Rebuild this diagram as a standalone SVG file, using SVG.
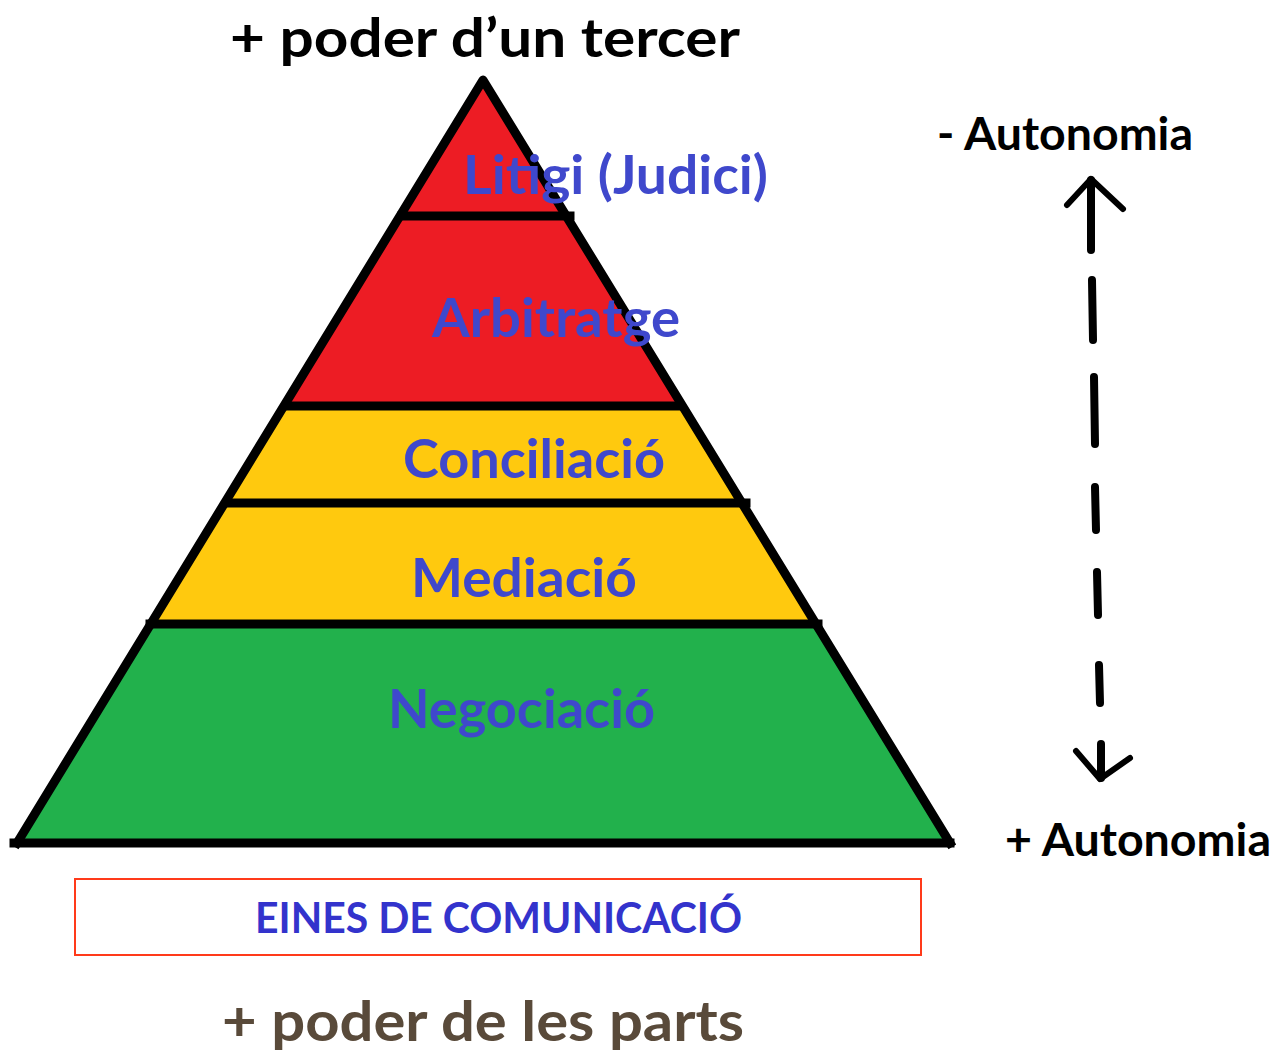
<svg xmlns="http://www.w3.org/2000/svg" width="1274" height="1051" viewBox="0 0 1274 1051">
<style>
  .lbl{font-family:Lato,"Open Sans","Liberation Sans",sans-serif;font-weight:bold;fill:#3F48CC}
  .blk{font-family:Lato,"Open Sans","Liberation Sans",sans-serif;font-weight:bold;fill:#000}
  .edge{stroke:#000;stroke-width:9;fill:none;stroke-linecap:square}
  .dash{stroke:#000;stroke-width:8;stroke-linecap:round;fill:none}
  .head{stroke:#000;stroke-width:6;stroke-linecap:round;stroke-linejoin:round;fill:none}
</style>
<rect width="1274" height="1051" fill="#fff"/>
<text class="blk" x="230" y="57" font-size="54" textLength="510" lengthAdjust="spacingAndGlyphs">+ poder d’un tercer</text>

<g id="pyramid">
  <g id="litigi">
    <polygon points="483,80 566,216 400,216" fill="#ED1C24"/>
  </g>
  <g id="arbitratge">
    <polygon points="400,216 566,216 682,406 284,406" fill="#ED1C24"/>
  </g>
  <g id="conciliacio">
    <polygon points="284,406 682,406 742,503 225,503" fill="#FFC90E"/>
  </g>
  <g id="mediacio">
    <polygon points="225,503 742,503 816,624 151,624" fill="#FFC90E"/>
  </g>
  <g id="negociacio">
    <polygon points="151,624 816,624 950,843 17,843" fill="#22B14C"/>
  </g>
  <g id="outline">
    <polyline class="edge" points="17,843 483,80 950,843" stroke-linejoin="round"/>
    <line class="edge" x1="14" y1="843" x2="950" y2="843"/>
    <line class="edge" x1="402" y1="216" x2="570" y2="216"/>
    <line class="edge" x1="287" y1="406" x2="678" y2="406"/>
    <line class="edge" x1="228" y1="503" x2="746" y2="503"/>
    <line class="edge" x1="150" y1="624" x2="818" y2="624"/>
  </g>
  <text class="lbl" x="463" y="194" font-size="53" textLength="305" lengthAdjust="spacingAndGlyphs">Litigi (Judici)</text>
  <text class="lbl" x="432" y="337" font-size="54" textLength="248" lengthAdjust="spacingAndGlyphs">Arbitratge</text>
  <text class="lbl" x="403" y="478" font-size="53" textLength="262" lengthAdjust="spacingAndGlyphs">Conciliació</text>
  <text class="lbl" x="411" y="597" font-size="53" textLength="226" lengthAdjust="spacingAndGlyphs">Mediació</text>
  <text class="lbl" x="388" y="728" font-size="53" textLength="267" lengthAdjust="spacingAndGlyphs">Negociació</text>
</g>

<g id="connectors">
  <line class="dash" x1="1091" y1="180" x2="1091" y2="250"/>
  <polyline class="head" points="1067,205 1091,179 1123,209"/>
  <line class="dash" x1="1092" y1="280" x2="1093" y2="340"/>
  <line class="dash" x1="1094" y1="377" x2="1095" y2="444"/>
  <line class="dash" x1="1095" y1="487" x2="1096" y2="530"/>
  <line class="dash" x1="1097" y1="572" x2="1098" y2="615"/>
  <line class="dash" x1="1099" y1="665" x2="1100" y2="703"/>
  <line class="dash" x1="1101" y1="744" x2="1101" y2="778"/>
  <polyline class="head" points="1076,751 1100,779 1130,758"/>
</g>

<g id="autonomia-labels">
  <text class="blk" x="937" y="150" font-size="45" textLength="256" lengthAdjust="spacingAndGlyphs">- Autonomia</text>
  <text class="blk" x="1005" y="856" font-size="45" textLength="266" lengthAdjust="spacingAndGlyphs">+ Autonomia</text>
</g>

<g id="eines">
  <rect x="75" y="879" width="846" height="76" fill="#fff" stroke="#FF3A1A" stroke-width="2"/>
  <text x="255" y="933" font-size="42" textLength="487" lengthAdjust="spacingAndGlyphs" style="font-family:Lato,'Open Sans','Liberation Sans',sans-serif;font-weight:bold;fill:#3333CC">EINES DE COMUNICACIÓ</text>
</g>

<text x="222" y="1041" font-size="56" textLength="522" lengthAdjust="spacingAndGlyphs" style="font-family:Lato,'Open Sans','Liberation Sans',sans-serif;font-weight:bold;fill:#594A3A">+ poder de les parts</text>
</svg>
